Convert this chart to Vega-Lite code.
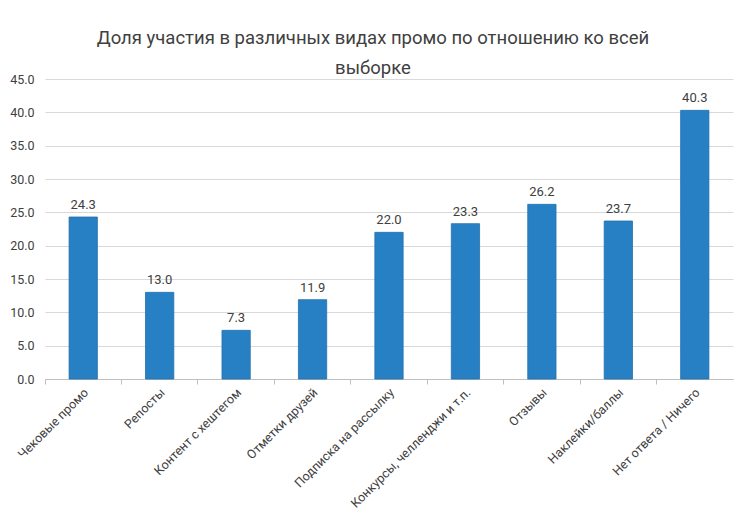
{
  "$schema": "https://vega.github.io/schema/vega-lite/v6.json",
  "width": 688,
  "height": 300,
  "autosize": {"type": "none"},
  "padding": {"left": 45, "top": 79, "right": 17, "bottom": 138},
  "background": "white",
  "title": {
    "text": ["Доля участия в различных видах промо по отношению ко всей", "выборке"],
    "font": "Roboto",
    "fontSize": 18.5,
    "fontWeight": "normal",
    "color": "#404040",
    "lineHeight": 30,
    "offset": -4,
    "dx": -16,
    "anchor": "middle"
  },
  "data": {
    "values": [
      {"category": "Чековые промо", "value": 24.3},
      {"category": "Репосты", "value": 13.0},
      {"category": "Контент с хештегом", "value": 7.3},
      {"category": "Отметки друзей", "value": 11.9},
      {"category": "Подписка на рассылку", "value": 22.0},
      {"category": "Конкурсы, челленджи и т.п.", "value": 23.3},
      {"category": "Отзывы", "value": 26.2},
      {"category": "Наклейки/баллы", "value": 23.7},
      {"category": "Нет ответа / Ничего", "value": 40.3}
    ]
  },
  "config": {
    "view": {"stroke": null},
    "font": "Roboto"
  },
  "encoding": {
    "y": {
      "field": "value",
      "type": "quantitative",
      "scale": {"domain": [0, 45]},
      "axis": {
        "title": null,
        "values": [0, 5, 10, 15, 20, 25, 30, 35, 40, 45],
        "format": ".1f",
        "labelFontSize": 12.5,
        "labelColor": "#404040",
        "labelPadding": 11,
        "labelOverlap": false,
        "gridColor": "#d9d9d9",
        "gridWidth": 1,
        "domain": false,
        "ticks": false
      }
    }
  },
  "resolve": {"axis": {"x": "independent"}},
  "layer": [
    {
      "mark": {"type": "bar", "width": {"band": 0.37}, "color": "#2880c4", "stroke": "#2070b0", "strokeWidth": 0.8},
      "encoding": {
        "x": {
          "field": "category",
          "type": "nominal",
          "sort": null,
          "scale": {"paddingInner": 0, "paddingOuter": 0},
          "axis": {
            "title": null,
            "orient": "bottom",
            "labelAngle": -45,
            "labelAlign": "right",
            "labelBaseline": "middle",
            "labelFontSize": 12.5,
            "labelColor": "#404040",
            "labelPadding": 11,
            "labelOffset": 3,
            "ticks": false,
            "domain": false,
            "labelLimit": 300
          }
        }
      }
    },
    {
      "mark": {"type": "text", "dy": -12, "fontSize": 13, "color": "#404040"},
      "encoding": {
        "x": {
          "field": "category",
          "type": "nominal",
          "sort": null,
          "axis": {
            "title": null,
            "orient": "bottom",
            "labels": false,
            "ticks": true,
            "tickSize": 5,
            "tickColor": "#bfbfbf",
            "bandPosition": 0,
            "domain": true,
            "domainColor": "#bfbfbf",
            "grid": false
          }
        },
        "text": {"field": "value", "type": "quantitative", "format": ".1f"}
      }
    }
  ]
}
